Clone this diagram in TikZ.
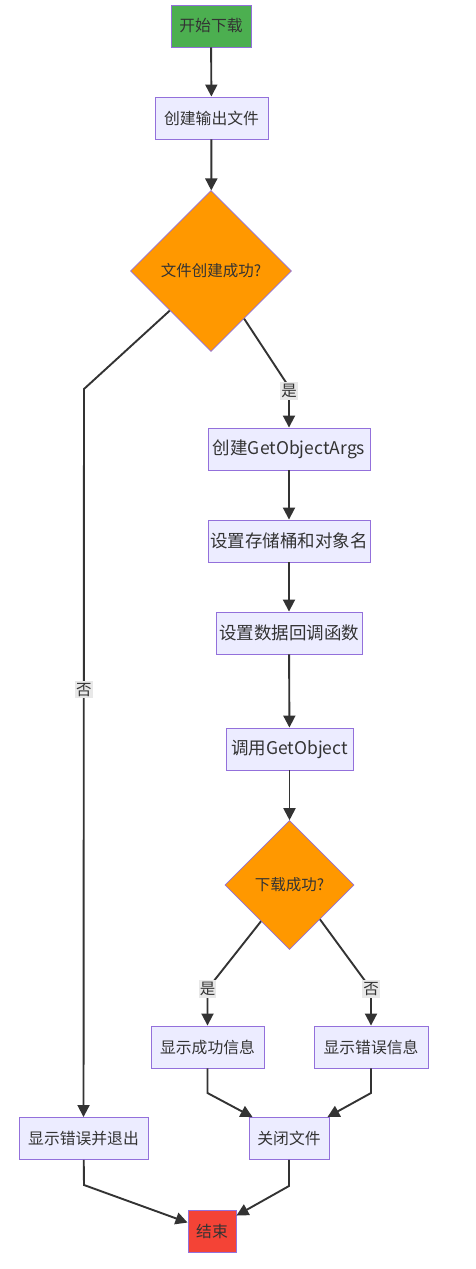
\documentclass[tikz,border=0pt]{standalone}
\usepackage{fontspec}
\setmainfont{Noto Sans CJK SC}
\usetikzlibrary{shapes.geometric,arrows.meta,calc}
\definecolor{boxfill}{HTML}{ECECFF}
\definecolor{boxline}{HTML}{9370DB}
\definecolor{txt}{HTML}{333333}
\definecolor{startfill}{HTML}{4CAF50}
\definecolor{endfill}{HTML}{F44336}
\definecolor{decfill}{HTML}{FF9800}
\definecolor{lblfill}{HTML}{E8E8E8}
\tikzset{
  base/.style={draw=boxline, line width=0.9pt, text=txt, inner sep=0pt, minimum height=42pt, font=\fontsize{15.8}{18}\selectfont},
  proc/.style={base, fill=boxfill},
  bigproc/.style={proc, font=\fontsize{17.5}{20}\selectfont},
  startbox/.style={base, fill=startfill},
  endbox/.style={base, fill=endfill},
  decision/.style={diamond, aspect=1, draw=boxline, line width=0.6pt, fill=decfill, text=txt, inner sep=0pt, font=\fontsize{15.5}{18}\selectfont},
  arr/.style={draw=txt, line width=1.9pt, -{Triangle[length=12pt,width=12pt]}},
  lbl/.style={fill=lblfill, text=txt, inner xsep=1pt, inner ysep=2pt, font=\fontsize{15.5}{17}\selectfont}
}
\begin{document}
\begin{tikzpicture}[x=1pt,y=-1pt]
\useasboundingbox (0,0) rectangle (475,1269);
\node[startbox, minimum width=80pt] (s) at (211,26) {开始下载};
\node[proc, minimum width=113pt] (c) at (211.5,118) {创建输出文件};
\node[decision, minimum width=161pt, minimum height=161pt] (d1) at (211,271) {文件创建成功?};
\node[bigproc, minimum width=162pt] (a) at (289,449) {创建GetObjectArgs};
\node[bigproc, minimum width=162pt] (b) at (289,541) {设置存储桶和对象名};
\node[bigproc, minimum width=146pt] (cb) at (289,633) {设置数据回调函数};
\node[bigproc, minimum width=127pt] (g) at (289.5,749) {调用GetObject};
\node[decision, minimum width=129pt, minimum height=129pt] (d2) at (289.5,885) {下载成功?};
\node[proc, minimum width=113pt] (ok) at (207.5,1047) {显示成功信息};
\node[proc, minimum width=114pt] (er) at (371,1047) {显示错误信息};
\node[proc, minimum width=129pt] (ex) at (83.5,1138.5) {显示错误并退出};
\node[proc, minimum width=80pt] (cf) at (289,1138.5) {关闭文件};
\node[endbox, minimum width=48pt] (e) at (212,1231) {结束};

\coordinate (k1) at (289,387);
\coordinate (k2) at (84,389);
\coordinate (k3) at (207.5,989);
\coordinate (k4) at (371,989);
\coordinate (k5) at (207.5,1093);
\coordinate (k6) at (371,1093);
\coordinate (k7) at (84,1185);
\coordinate (k8) at (289,1186);

\draw[arr] (s) -- (c);
\draw[arr] (c) -- (d1);
\draw[arr] ($(d1.east)!0.59!(d1.south)$) -- (k1) -- node[lbl,pos=0.1] (l1) {是} (a);
\draw[arr] ($(d1.west)!0.49!(d1.south)$) -- (k2) -- node[lbl,pos=0.413] (l2) {否} (ex);
\draw[arr] (a) -- (b);
\draw[arr] (b) -- (cb);
\draw[arr] (cb) -- (g);
\draw[arr] (g) -- (d2);
\draw[arr] ($(d2.west)!0.56!(d2.south)$) -- (k3) -- node[lbl,pos=0] (l3) {是} (ok);
\draw[arr] ($(d2.east)!0.53!(d2.south)$) -- (k4) -- node[lbl,pos=0] (l4) {否} (er);
\draw[arr] (ok) -- (k5) -- ($(cf.north west)+(4,0)$);
\draw[arr] (er) -- (k6) -- ($(cf.north east)+(-2,0)$);
\draw[arr] (ex) -- (k7) -- ($(e.north west)+(0,13)$);
\draw[arr] (cf) -- (k8) -- ($(e.north east)+(0,6)$);
\end{tikzpicture}
\end{document}
